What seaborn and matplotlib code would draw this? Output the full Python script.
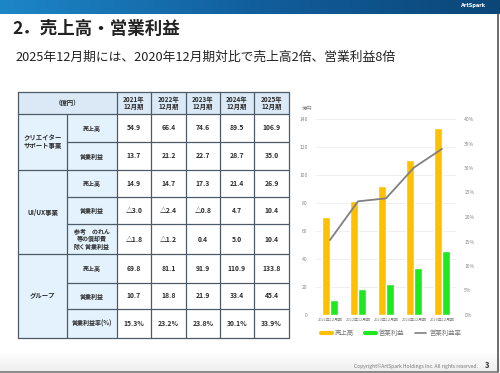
import numpy as np
import pandas as pd
import matplotlib
matplotlib.use("Agg")
import matplotlib.pyplot as plt
from matplotlib.patches import Rectangle
from matplotlib.lines import Line2D
from matplotlib.colors import LinearSegmentedColormap
import seaborn as sns

# ---------------- data ----------------
periods = ["2021年12月期", "2022年12月期", "2023年12月期", "2024年12月期", "2025年12月期"]
year_headers = ["2021年\n12月期", "2022年\n12月期", "2023年\n12月期", "2024年\n12月期", "2025年\n12月期"]
creator_sales = [54.9, 66.4, 74.6, 89.5, 106.9]
creator_op = [13.7, 21.2, 22.7, 28.7, 35.0]
uiux_sales = [14.9, 14.7, 17.3, 21.4, 26.9]
uiux_op = [-3.0, -2.4, -0.8, 4.7, 10.4]
uiux_op_ex = [-1.8, -1.2, 0.4, 5.0, 10.4]
group_sales = [69.8, 81.1, 91.9, 110.9, 133.8]
group_op = [10.7, 18.8, 21.9, 33.4, 45.4]
group_margin = [15.3, 23.2, 23.8, 30.1, 33.9]
left_ticks = [0, 20, 40, 60, 80, 100, 120, 140]
right_ticks = [0, 5, 10, 15, 20, 25, 30, 35, 40]

title = "2．売上高・営業利益"
subtitle = "2025年12月期には、2020年12月期対比で売上高2倍、営業利益8倍"

sns.set_theme(style="white")
plt.rcParams['font.family'] = ['Noto Sans CJK JP', 'DejaVu Sans']

W, H = 500, 373
fig = plt.figure(figsize=(5, 3.73), dpi=100)
bg = fig.add_axes([0, 0, 1, 1])
bg.set_xlim(0, W)
bg.set_ylim(H, 0)
bg.axis('off')

# header bar
cmap = LinearSegmentedColormap.from_list("hdr", ["#1d86c6", "#125f9e", "#0b4677"])
grad = np.linspace(0, 1, 256).reshape(1, -1)
bg.imshow(grad, extent=[0, W, 14, 0], cmap=cmap, aspect='auto', zorder=1)
bg.set_xlim(0, W)
bg.set_ylim(H, 0)
bg.text(474, 6, "ArtSpark", color="white", fontsize=3.6, fontweight='bold',
        ha='center', va='center', family=['DejaVu Sans'])

bg.text(12, 29, title, fontsize=12.6, fontweight='bold', color="#222222",
        ha='left', va='center')
bg.text(15, 57, subtitle, fontsize=9.2, color="#222222", ha='left', va='center')

# bottom / right edges of slide
bot = np.linspace(0, 1, 64).reshape(-1, 1)
bg.imshow(bot, extent=[0, W, 372, 352], cmap=LinearSegmentedColormap.from_list(
    "b", ["#ffffff", "#eeeeee"]), aspect='auto', zorder=0)
bg.set_xlim(0, W)
bg.set_ylim(H, 0)
bg.plot([498, 498], [14, 372], color="#555555", lw=1.2, zorder=5)
bg.plot([0, 498], [372, 372], color="#777777", lw=1.2, zorder=5)

# ---------------- table ----------------
xe = [18, 67, 117, 151, 186, 220, 254, 289]
ye = [92, 114, 142, 170, 197, 224, 254, 283, 309, 338]
head_fill = "#dbe9f6"
lab_fill = "#e3f2fc"
line_c = "#4d5b68"

bg.add_patch(Rectangle((xe[0], ye[0]), xe[-1] - xe[0], ye[1] - ye[0], fc=head_fill, ec='none', zorder=2))
bg.add_patch(Rectangle((xe[0], ye[1]), xe[2] - xe[0], ye[-1] - ye[1], fc=lab_fill, ec='none', zorder=2))

def fmt(v):
    return ("△%.1f" % abs(v)) if v < 0 else "%.1f" % v

rows = [
    ("売上高", [fmt(v) for v in creator_sales]),
    ("営業利益", [fmt(v) for v in creator_op]),
    ("売上高", [fmt(v) for v in uiux_sales]),
    ("営業利益", [fmt(v) for v in uiux_op]),
    ("参考　のれん\n等の償却費\n除く営業利益", [fmt(v) for v in uiux_op_ex]),
    ("売上高", [fmt(v) for v in group_sales]),
    ("営業利益", [fmt(v) for v in group_op]),
    ("営業利益率(%)", ["%.1f%%" % v for v in group_margin]),
]
groups = [("クリエイター\nサポート事業", 1, 3), ("UI/UX事業", 3, 6), ("グループ", 6, 9)]
tc = "#2b2b2b"
bg.text((xe[0] + xe[2]) / 2, (ye[0] + ye[1]) / 2, "（億円）", fontsize=4.6, fontweight='bold',
        color=tc, ha='center', va='center', zorder=4)
for j, yh in enumerate(year_headers):
    bg.text((xe[j + 2] + xe[j + 3]) / 2, (ye[0] + ye[1]) / 2, yh, fontsize=4.6, fontweight='bold',
            color=tc, ha='center', va='center', linespacing=1.1, zorder=4)
for i, (lab, vals) in enumerate(rows):
    yc = (ye[i + 1] + ye[i + 2]) / 2
    bg.text((xe[1] + xe[2]) / 2, yc, lab, fontsize=4.3, fontweight='bold', color=tc,
            ha='center', va='center', linespacing=1.15, zorder=4)
    for j, v in enumerate(vals):
        bg.text((xe[j + 2] + xe[j + 3]) / 2, yc, v, fontsize=4.9, fontweight='bold', color=tc,
                ha='center', va='center', zorder=4)
for g, r0, r1 in groups:
    bg.text((xe[0] + xe[1]) / 2, (ye[r0] + ye[r1]) / 2, g, fontsize=4.6, fontweight='bold',
            color=tc, ha='center', va='center', linespacing=1.15, zorder=4)

group_starts = {1, 3, 6, 9}
for k, y in enumerate(ye):
    x0 = xe[0] if k in group_starts or k == 0 else xe[1]
    bg.plot([x0, xe[-1]], [y, y], color=line_c, lw=0.9, zorder=3)
for k, x in enumerate(xe):
    y0 = ye[1] if k == 1 else ye[0]
    bg.plot([x, x], [y0, ye[-1]], color=line_c, lw=0.9, zorder=3)

# ---------------- chart ----------------
ax = fig.add_axes([316 / W, 1 - 315 / H, 140 / W, 196 / H])
ax.patch.set_alpha(0)
df = pd.DataFrame({
    "期": periods * 2,
    "値": group_sales + group_op,
    "系列": ["売上高"] * 5 + ["営業利益"] * 5,
})
pal = {"売上高": "#FFC000", "営業利益": "#1EE81E"}
sns.barplot(data=df, x="期", y="値", hue="系列", palette=pal, width=0.55, gap=0.0,
            saturation=1, ax=ax, legend=False)
ax.set_ylim(0, 140)
ax.set_yticks(left_ticks)
ax.grid(axis='y', color="#ececec", lw=0.6)
ax.set_axisbelow(True)
for s in ax.spines.values():
    s.set_visible(False)
ax.tick_params(axis='y', labelsize=3.6, colors="#888888", length=0, pad=6)
ax.tick_params(axis='x', labelsize=2.8, colors="#777777", length=0, pad=2)
ax.set_xlabel("")
ax.set_ylabel("")

ax2 = ax.twinx()
sns.pointplot(x=periods, y=group_margin, color="#808080", markers="", linewidth=1.3,
              ax=ax2, errorbar=None)
ax2.set_ylim(0, 40)
ax2.set_yticks(right_ticks)
ax2.set_yticklabels([f"{t}%" for t in right_ticks])
ax2.tick_params(axis='y', labelsize=3.6, colors="#888888", length=0, pad=6)
for s in ax2.spines.values():
    s.set_visible(False)
ax2.set_ylabel("")
ax2.set_xlim(-0.5, 4.5)
ax.set_xlim(-0.5, 4.5)
ax2.grid(False)

bg.text(307, 108, "億円", fontsize=3.8, color="#888888", ha='center', va='center')

handles = [Line2D([], [], color="#FFC000", lw=3),
           Line2D([], [], color="#1EE81E", lw=3),
           Line2D([], [], color="#808080", lw=1.2)]
fig.legend(handles, ["売上高", "営業利益", "営業利益率"], loc='center',
           bbox_to_anchor=(391 / W, 1 - 333 / H), ncol=3, frameon=False, fontsize=4.6,
           handlelength=1.7, handletextpad=0.5, columnspacing=1.7,
           labelcolor="#777777")

bg.text(478, 366, "Copyright©ArtSpark Holdings Inc. All rights reserved.", fontsize=3.6,
        color="#777777", ha='right', va='center')
bg.text(487, 366, "3", fontsize=5.5, fontweight='bold', color="#333333", ha='center', va='center')

fig.savefig("out.png", dpi=100)
